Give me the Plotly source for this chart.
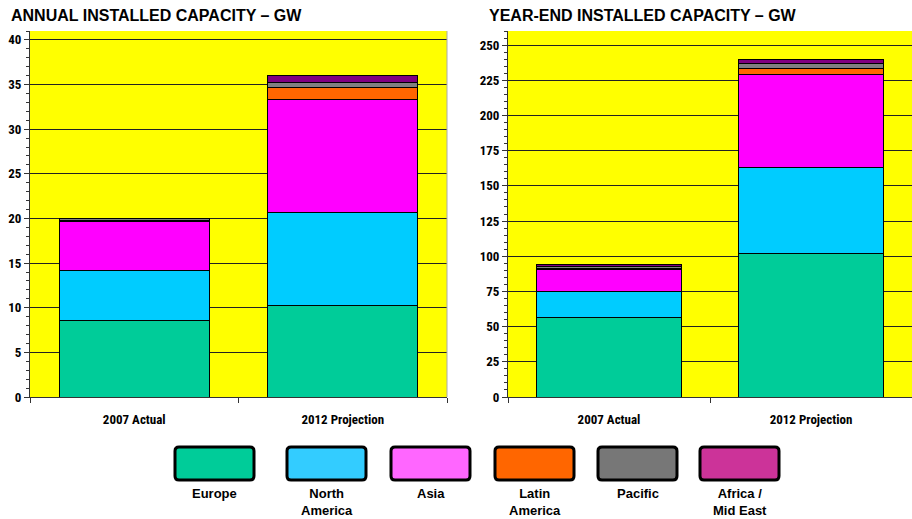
import plotly.graph_objects as go

W, H = 912, 519

categories = ["2007 Actual", "2012 Projection"]
region_names = ["Europe", "North America", "Asia", "Latin America", "Pacific", "Africa / Mid East"]
legend_labels = ["Europe", "North<br>America", "Asia", "Latin<br>America", "Pacific", "Africa /<br>Mid East"]
bar_colors = ["#00CC99", "#00CCFF", "#FF00FF", "#FF6600", "#808080", "#800080"]
legend_colors = ["#00CC99", "#33CCFF", "#FF66FF", "#FF6600", "#777777", "#CC3399"]

# Annual installed capacity (GW)
annual_europe = [8.6, 10.3]
annual_north_america = [5.6, 10.4]
annual_asia = [5.5, 12.6]
annual_latin_america = [0.1, 1.35]
annual_pacific = [0.15, 0.6]
annual_africa_mid_east = [0.1, 0.8]

# Year-end installed capacity (GW)
yearend_europe = [56.8, 101.6]
yearend_north_america = [18.5, 61.7]
yearend_asia = [15.6, 65.9]
yearend_latin_america = [0.5, 4.0]
yearend_pacific = [1.6, 3.8]
yearend_africa_mid_east = [1.2, 2.8]

annual_series = [annual_europe, annual_north_america, annual_asia,
                 annual_latin_america, annual_pacific, annual_africa_mid_east]
yearend_series = [yearend_europe, yearend_north_america, yearend_asia,
                  yearend_latin_america, yearend_pacific, yearend_africa_mid_east]

annual_ticks = [0, 5, 10, 15, 20, 25, 30, 35, 40]
yearend_ticks = [0, 25, 50, 75, 100, 125, 150, 175, 200, 225, 250]

FONT = "Liberation Sans, Arial, sans-serif"
NARROW = "Roboto Condensed, Noto Sans Condensed, Liberation Sans Narrow, Liberation Sans, sans-serif"

fig = go.Figure()
for name, vals, col in zip(region_names, annual_series, bar_colors):
    fig.add_trace(go.Bar(x=categories, y=vals, name=name, marker=dict(color=col, line=dict(color="black", width=1)),
                         xaxis="x", yaxis="y", showlegend=False))
for name, vals, col in zip(region_names, yearend_series, bar_colors):
    fig.add_trace(go.Bar(x=categories, y=vals, name=name, marker=dict(color=col, line=dict(color="black", width=1)),
                         xaxis="x2", yaxis="y2", showlegend=False))

def px_x(p):
    return p / W

def px_y(p):
    return 1 - p / H

ydom = [px_y(397), px_y(31)]
tickfont = dict(family=NARROW, size=13, color="black", weight="bold")

xcommon = dict(type="category", tickson="boundaries", ticks="outside", ticklen=5, tickcolor="#333",
               showline=True, linecolor="#333", linewidth=1, showgrid=False, tickfont=tickfont,
               ticklabelstandoff=10, fixedrange=True)
ycommon = dict(ticks="outside", ticklen=5, tickcolor="#333", showline=True, linecolor="#333", linewidth=1,
               showgrid=True, gridcolor="#222", gridwidth=1, zeroline=False, tickfont=tickfont,
               fixedrange=True)

fig.update_layout(
    width=W, height=H,
    autosize=False,
    margin=dict(l=0, r=0, t=0, b=0, autoexpand=False),
    paper_bgcolor="white",
    plot_bgcolor="#FFFF00",
    barmode="stack",
    bargap=0.28,
    font=dict(family=FONT, color="black"),
    xaxis=dict(domain=[px_x(30), px_x(447)], anchor="y", **xcommon),
    yaxis=dict(domain=ydom, anchor="x", range=[0, 41.0], tickvals=annual_ticks,
               minor=dict(dtick=1, ticks="outside", ticklen=3, tickcolor="#333", showgrid=False), **ycommon),
    xaxis2=dict(domain=[px_x(508), 1.0], anchor="y2", **xcommon),
    yaxis2=dict(domain=ydom, anchor="x2", range=[0, 260], tickvals=yearend_ticks,
                minor=dict(dtick=5, ticks="outside", ticklen=3, tickcolor="#333", showgrid=False), **ycommon),
)

annotations = [
    dict(text="ANNUAL INSTALLED CAPACITY – GW", x=px_x(9), y=px_y(15), xref="paper", yref="paper",
         xanchor="left", yanchor="middle", showarrow=False,
         font=dict(family=FONT, size=16, color="black", weight="bold")),
    dict(text="YEAR-END INSTALLED CAPACITY – GW", x=px_x(487), y=px_y(15), xref="paper", yref="paper",
         xanchor="left", yanchor="middle", showarrow=False,
         font=dict(family=FONT, size=16, color="black", weight="bold")),
]

shapes = [
    dict(type="line", xref="paper", yref="paper", x0=px_x(447), x1=px_x(447), y0=ydom[0], y1=ydom[1],
         line=dict(color="#AAAAAA", width=1)),
]

def rounded_rect(x0, y0, x1, y1, r):
    def P(x, y):
        return f"{px_x(x):.5f},{px_y(y):.5f}"
    return (f"M {P(x0 + r, y0)} L {P(x1 - r, y0)} Q {P(x1, y0)} {P(x1, y0 + r)} "
            f"L {P(x1, y1 - r)} Q {P(x1, y1)} {P(x1 - r, y1)} "
            f"L {P(x0 + r, y1)} Q {P(x0, y1)} {P(x0, y1 - r)} "
            f"L {P(x0, y0 + r)} Q {P(x0, y0)} {P(x0 + r, y0)} Z")

legend_left = [175, 287, 391, 495, 598, 700]
box_w = 79
for left, lab, col in zip(legend_left, legend_labels, legend_colors):
    shapes.append(dict(type="path", xref="paper", yref="paper",
                       path=rounded_rect(left, 447, left + box_w, 480, 4),
                       fillcolor=col, line=dict(color="black", width=3)))
    annotations.append(dict(text=lab, x=px_x(left + box_w / 2), y=px_y(484), xref="paper", yref="paper",
                            xanchor="center", yanchor="top", showarrow=False,
                            font=dict(family=FONT, size=13, color="black", weight="bold")))

fig.update_layout(shapes=shapes, annotations=annotations)

fig.write_html("out.html")
